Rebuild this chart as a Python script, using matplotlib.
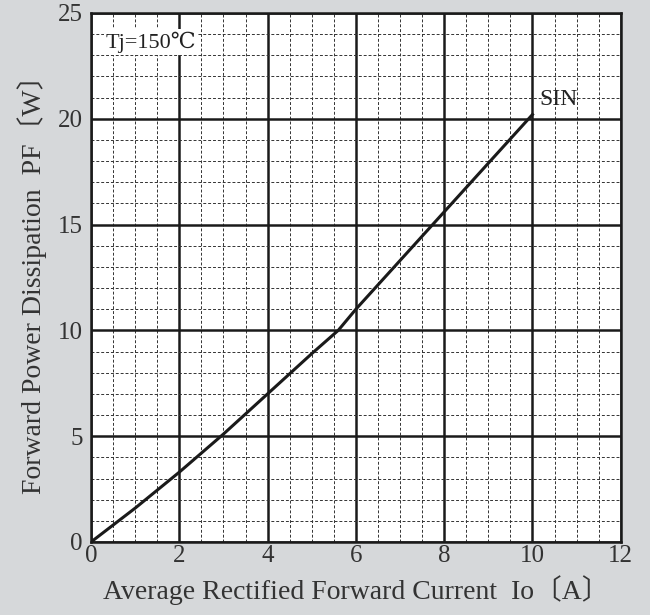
import matplotlib
matplotlib.use('Agg')
import matplotlib.pyplot as plt
import numpy as np

# data
io_a = [0, 1, 2, 3, 4, 5, 5.6, 6, 7, 8, 9, 10]
pf_w = [0, 1.6, 3.3, 5.1, 7.0, 8.9, 10.0, 11.0, 13.3, 15.6, 17.9, 20.2]

x_ticks = [0, 2, 4, 6, 8, 10, 12]
y_ticks = [0, 5, 10, 15, 20, 25]

serif = ['Liberation Serif', 'DejaVu Serif', 'Noto Sans CJK JP']
bg = '#d6d8da'

fig = plt.figure(figsize=(6.5, 6.15), dpi=100, facecolor=bg)
ax = fig.add_axes([0.14, 0.1187, 0.815, 0.8602])
ax.set_facecolor('white')

ax.set_xlim(0, 12)
ax.set_ylim(0, 25)
ax.set_xticks(x_ticks)
ax.set_yticks(y_ticks)
ax.set_xticks(np.arange(0, 12.01, 0.5), minor=True)
ax.set_yticks(np.arange(0, 25.01, 1), minor=True)

ax.grid(True, which='major', color='#1a1a1a', linewidth=1.8, linestyle='-')
ax.grid(True, which='minor', color='#333333', linewidth=0.7, linestyle=(0, (3, 2)))
ax.set_axisbelow(True)
ax.tick_params(which='both', length=0)
ax.tick_params(axis='x', pad=2)
ax.tick_params(axis='y', pad=6)
for sp in ax.spines.values():
    sp.set_linewidth(1.8)
    sp.set_color('#1a1a1a')

ax.plot(io_a, pf_w, color='#1a1a1a', linewidth=2.2)

for lab in ax.get_xticklabels() + ax.get_yticklabels():
    lab.set_family(serif)
    lab.set_fontsize(18)
    lab.set_color('#333333')

ax.set_xlabel('Average Rectified Forward Current  Io〔A〕', family=serif,
              fontsize=20, color='#333333', labelpad=6)
ax.set_ylabel('Forward Power Dissipation  PF〔W〕', family=serif,
              fontsize=20, color='#333333', labelpad=8)

ax.text(0.028, 0.945, 'Tj=150℃', transform=ax.transAxes, family=serif,
        fontsize=16, color='#222222', va='center', ha='left',
        bbox=dict(facecolor='white', edgecolor='none', pad=1.5))
ax.text(10.15, 20.9, 'SIN', family=serif, fontsize=17, color='#222222',
        va='center', ha='left')

fig.savefig('out.png', dpi=100, facecolor=bg)
